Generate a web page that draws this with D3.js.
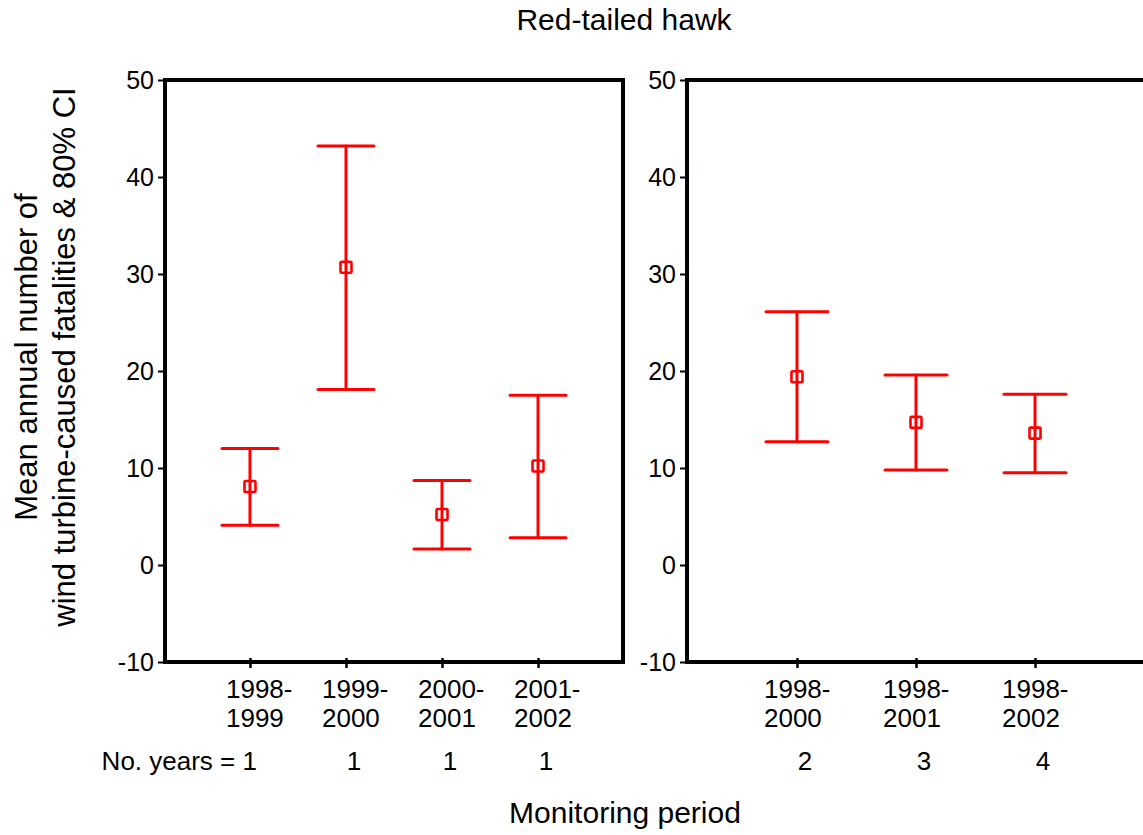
<!DOCTYPE html>
<html>
<head>
<meta charset="utf-8">
<script src="https://cdn.jsdelivr.net/npm/d3@7/dist/d3.min.js"></script>
<style>
  html, body { margin: 0; padding: 0; background: #fff; }
  svg { display: block; font-family: "Liberation Sans", Arial, sans-serif; }
</style>
</head>
<body>
<svg id="chart" width="1143" height="835"></svg>
<script>
// ---- data ----
const leftLine1  = ["1998-", "1999-", "2000-", "2001-"];
const leftLine2  = ["1999", "2000", "2001", "2002"];
const leftYears  = [1, 1, 1, 1];
const leftMean   = [8.1, 30.7, 5.2, 10.2];
const leftLower  = [4.1, 18.1, 1.65, 2.8];
const leftUpper  = [12.0, 43.2, 8.7, 17.5];

const rightLine1 = ["1998-", "1998-", "1998-"];
const rightLine2 = ["2000", "2001", "2002"];
const rightYears = [2, 3, 4];
const rightMean  = [19.4, 14.7, 13.6];
const rightLower = [12.7, 9.8, 9.5];
const rightUpper = [26.1, 19.6, 17.6];

const yTicks = [-10, 0, 10, 20, 30, 40, 50];

const titleText = "Red-tailed hawk";
const xTitle = "Monitoring period";
const yTitle1 = "Mean annual number of";
const yTitle2 = "wind turbine-caused fatalities & 80% CI";
const yearsPrefix = "No. years = ";

// ---- layout ----
const svg = d3.select("#chart");
const plotTop = 80, plotBottom = 662, panelW = 458;
const y = d3.scaleLinear().domain([-10, 50]).range([plotBottom, plotTop]);

const panels = [
  { x0: 165, l1: leftLine1, l2: leftLine2, yrs: leftYears, mean: leftMean, lo: leftLower, hi: leftUpper,
    pad: 0.885, cap: 28, labDx: -24, cntDx: 8, prefix: true },
  { x0: 687, l1: rightLine1, l2: rightLine2, yrs: rightYears, mean: rightMean, lo: rightLower, hi: rightUpper,
    pad: 0.924, cap: 31, labDx: -33, cntDx: 8, prefix: false }
];

panels.forEach(p => {
  const idx = d3.range(p.mean.length);
  const x = d3.scalePoint().domain(idx).range([p.x0, p.x0 + panelW]).padding(p.pad);
  const g = svg.append("g");

  // y axis ticks
  const ya = g.append("g").attr("transform", `translate(${p.x0},0)`)
    .call(d3.axisLeft(y).tickValues(yTicks).tickSize(7).tickPadding(4).tickFormat(d => String(d)));
  ya.select(".domain").remove();
  ya.selectAll(".tick line").attr("stroke", "#000").attr("stroke-width", 2);
  ya.selectAll(".tick text").attr("font-size", 25).attr("fill", "#000")
    .attr("font-family", "'Liberation Sans', Arial, sans-serif");

  // x axis ticks
  const xa = g.append("g").attr("transform", `translate(0,${plotBottom})`)
    .call(d3.axisBottom(x).tickSize(6).tickFormat(""));
  xa.select(".domain").remove();
  xa.selectAll(".tick line").attr("stroke", "#000").attr("stroke-width", 2.5).attr("y1", -4);

  // frame
  g.append("rect").attr("x", p.x0).attr("y", plotTop).attr("width", panelW).attr("height", plotBottom - plotTop)
    .attr("fill", "none").attr("stroke", "#000").attr("stroke-width", 4);

  // category labels
  const lab = g.selectAll("text.cat").data(idx).join("text").attr("class", "cat")
    .attr("font-size", 26).attr("fill", "#000");
  lab.append("tspan").attr("x", d => x(d) + p.labDx).attr("y", 698).text(d => p.l1[d]);
  lab.append("tspan").attr("x", d => x(d) + p.labDx).attr("y", 727).text(d => p.l2[d]);

  // years counts
  const first = d => p.prefix && d === 0;
  g.selectAll("text.cnt").data(idx).join("text").attr("class", "cnt")
    .attr("x", d => first(d) ? x(d) + 7 : x(d) + p.cntDx).attr("y", 770)
    .attr("text-anchor", d => first(d) ? "end" : "middle")
    .attr("font-size", 26).attr("fill", "#000")
    .text(d => first(d) ? yearsPrefix + p.yrs[d] : p.yrs[d]);

  // error bars
  const red = "#ff0000";
  const eb = g.selectAll("g.eb").data(idx).join("g").attr("class", "eb")
    .attr("stroke", red).attr("stroke-width", 3).attr("fill", "none").attr("stroke-linecap", "round");
  eb.append("line").attr("x1", d => x(d)).attr("x2", d => x(d))
    .attr("y1", d => y(p.lo[d])).attr("y2", d => y(p.hi[d]));
  eb.append("line").attr("x1", d => x(d) - p.cap).attr("x2", d => x(d) + p.cap)
    .attr("y1", d => y(p.hi[d])).attr("y2", d => y(p.hi[d]));
  eb.append("line").attr("x1", d => x(d) - p.cap).attr("x2", d => x(d) + p.cap)
    .attr("y1", d => y(p.lo[d])).attr("y2", d => y(p.lo[d]));
  eb.append("rect").attr("x", d => x(d) - 5.5).attr("y", d => y(p.mean[d]) - 5.5)
    .attr("width", 11).attr("height", 11).attr("stroke-width", 2.6).attr("rx", 1);
});

// titles
svg.append("text").attr("x", 624).attr("y", 30).attr("text-anchor", "middle")
  .attr("font-size", 30).attr("fill", "#000").text(titleText);
svg.append("text").attr("x", 625).attr("y", 823).attr("text-anchor", "middle")
  .attr("font-size", 30).attr("fill", "#000").text(xTitle);
const yt = svg.append("text").attr("transform", "translate(0,357) rotate(-90)")
  .attr("text-anchor", "middle").attr("font-size", 31).attr("fill", "#000");
yt.append("tspan").attr("x", 0).attr("y", 37).text(yTitle1);
yt.append("tspan").attr("x", 0).attr("y", 75).text(yTitle2);
</script>
</body>
</html>
